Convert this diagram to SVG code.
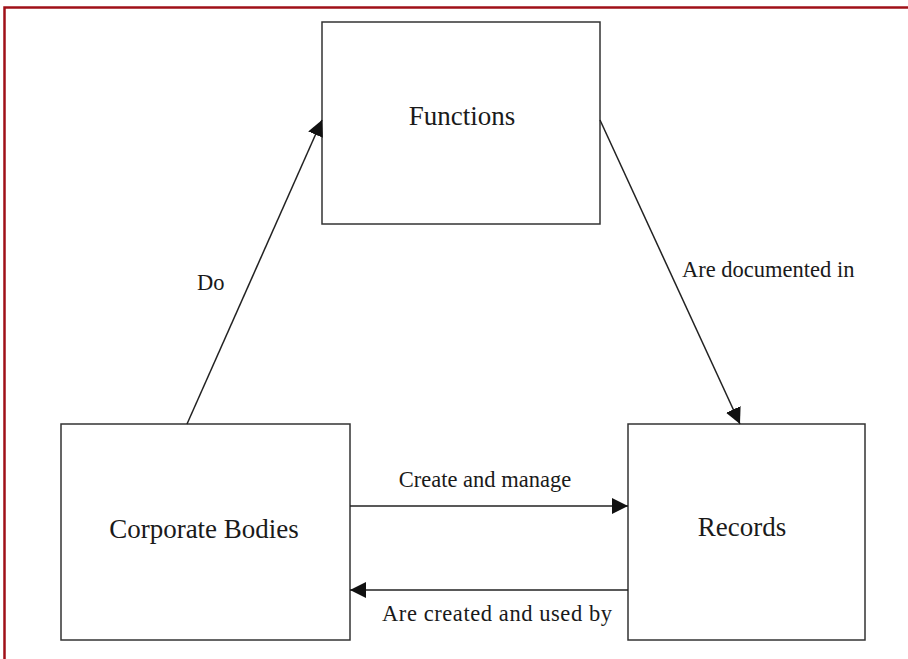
<svg xmlns="http://www.w3.org/2000/svg" width="908" height="659" viewBox="0 0 908 659">
<style>
.box{fill:#fff;stroke:#333;stroke-width:1.5}
.t{font-family:"Liberation Serif","Times New Roman",serif;fill:#1a1a1a}
.big{font-size:27px;text-anchor:middle}
.lab{font-size:22.5px}
.c{fill:none;stroke:#222;stroke-width:1.5}
</style>
<defs>
<marker id="ah" viewBox="0 0 10 10" refX="10" refY="5" markerWidth="16" markerHeight="16" markerUnits="userSpaceOnUse" orient="auto">
<path d="M0,0 L10,5 L0,10 Z" fill="#111"/>
</marker>
</defs>
<rect x="0" y="0" width="908" height="659" fill="#fff"/>
<path d="M4.5,659 V7.5 H908" fill="none" stroke="#a01018" stroke-width="2.5"/>
<g id="functions">
<rect class="box" x="322" y="22" width="278" height="202"/>
<text class="t big" x="462" y="125">Functions</text>
</g>
<g id="corporate-bodies">
<rect class="box" x="61" y="424" width="289" height="216"/>
<text class="t big" x="204" y="538">Corporate Bodies</text>
</g>
<g id="records">
<rect class="box" x="628" y="424" width="237" height="216"/>
<text class="t big" x="742" y="536">Records</text>
</g>
<g id="connectors">
<line class="c" x1="187" y1="424" x2="322" y2="120" marker-end="url(#ah)"/>
<line class="c" x1="600" y1="120" x2="740" y2="424" marker-end="url(#ah)"/>
<line class="c" x1="350" y1="506" x2="628" y2="506" marker-end="url(#ah)"/>
<line class="c" x1="628" y1="590" x2="350" y2="590" stroke-width="2.2" marker-end="url(#ah)"/>
<text class="t lab" x="197" y="290">Do</text>
<text class="t lab" x="682" y="277">Are documented in</text>
<text class="t lab" x="485" y="487" text-anchor="middle">Create and manage</text>
<text class="t lab" x="382" y="621" textLength="230" lengthAdjust="spacing">Are created and used by</text>
</g>
</svg>
